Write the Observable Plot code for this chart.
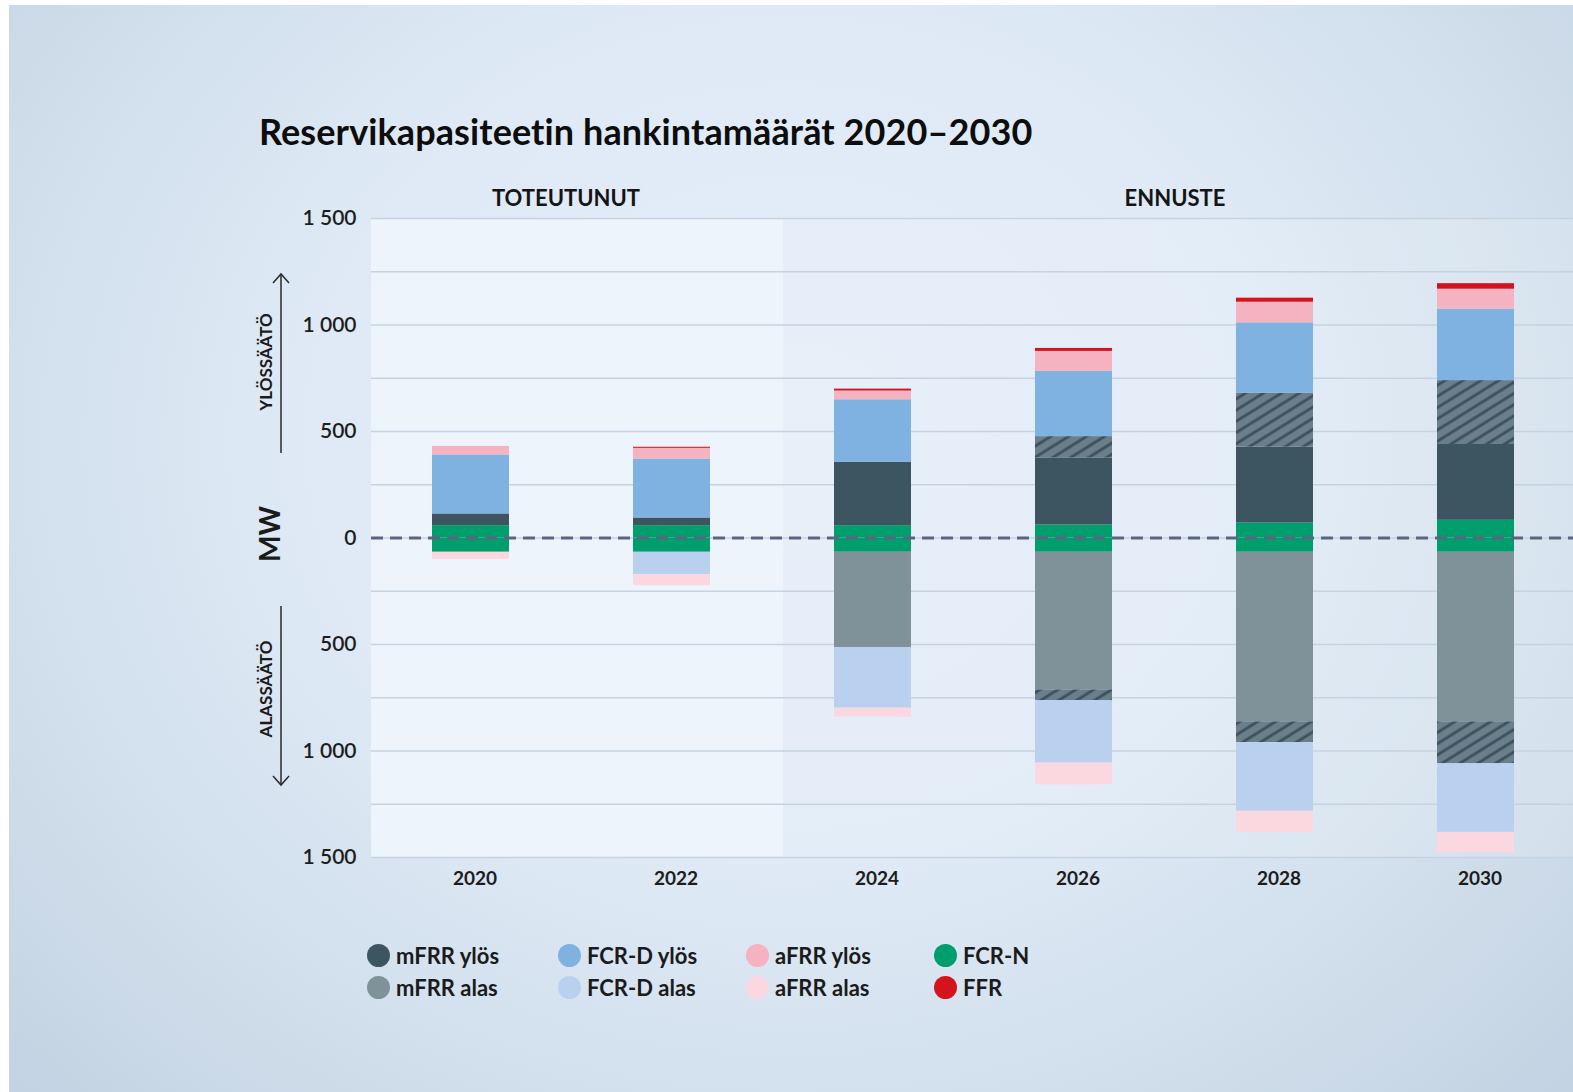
<!DOCTYPE html>
<html>
<head>
<meta charset="utf-8">
<script src="https://cdn.jsdelivr.net/npm/d3@7"></script>
<script src="https://cdn.jsdelivr.net/npm/@observablehq/plot@0.6"></script>
<style>
  html, body { margin: 0; padding: 0; background: #ffffff; overflow: hidden; }
  body { width: 1573px; height: 1092px; position: relative; font-family: Lato, "Open Sans", sans-serif; color: #1b1b1b; }
  #bg { position: absolute; left: 9px; top: 5px; right: 0; bottom: 0;
        background: radial-gradient(ellipse 68% 85% at 50% 40%, #e4eef9 0%, #dfeaf6 45%, #d1dfec 75%, #c4d3e3 100%); }
  #panelA { position: absolute; left: 371px; top: 218px; width: 412px; height: 639px; background: #edf4fc; }
  #panelB { position: absolute; left: 783px; top: 218px; width: 790px; height: 639px; background: rgba(255,255,255,0.14); }
  #title { position: absolute; left: 259px; top: 113px; font-size: 36px; font-weight: 700; line-height: 1; white-space: nowrap; color: #0d0d0d; letter-spacing: 0.1px; }
  .period { position: absolute; top: 187px; font-size: 22px; font-weight: 700; line-height: 1; white-space: nowrap; transform: translateX(-50%); color: #151515; }
  #chart { position: absolute; left: 0; top: 180px; }
  #overlay { position: absolute; left: 0; top: 0; pointer-events: none; }
  .leg { position: absolute; display: flex; align-items: center; height: 23px; font-size: 22px; font-weight: 700; line-height: 1; white-space: nowrap; color: #1b1b1b; }
  .leg .dot { width: 23px; height: 23px; border-radius: 50%; margin-right: 6px; flex: none; }
</style>
</head>
<body>
<div id="bg"></div>
<div id="panelA"></div>
<div id="panelB"></div>
<div id="title">Reservikapasiteetin hankintamäärät 2020–2030</div>
<div class="period" style="left:566px">TOTEUTUNUT</div>
<div class="period" style="left:1175px">ENNUSTE</div>
<div id="chart"></div>
<svg id="overlay" width="1573" height="1092"></svg>
<div id="legend"></div>
<script>
// ---- data (MW) ----
const years = ["2020", "2022", "2024", "2026", "2028", "2030"];
// upward regulation (ylössäätö)
const fcrNUp       = [58, 58, 58, 61, 70, 83];
const mfrrUp       = [55, 36, 297, 315, 356, 356];
const mfrrUpExtra  = [0, 0, 0, 100, 253, 300];   // hatched part
const fcrdUp       = [277, 277, 294, 306, 331, 335];
const afrrUp       = [40, 50, 41, 94, 97, 94];
const ffr          = [0, 5, 9, 14, 19, 26];
// downward regulation (alassäätö)
const fcrNDown     = [67, 67, 67, 67, 67, 67];
const mfrrDown     = [0, 0, 447, 646, 796, 796];
const mfrrDownExtra= [0, 0, 0, 50, 98, 197];     // hatched part
const fcrdDown     = [0, 105, 285, 294, 322, 322];
const afrrDown     = [33, 52, 42, 102, 100, 97];

const yTicks = [-1500, -1000, -500, 0, 500, 1000, 1500];
const gridTicks = [-1500, -1250, -1000, -750, -500, -250, 0, 250, 500, 750, 1000, 1250, 1500];

// series in stacking order, sign = direction
const series = [
  {key: "FCR-N ylös",    values: fcrNUp,        sign: 1,  color: "#009e6c"},
  {key: "mFRR ylös",     values: mfrrUp,        sign: 1,  color: "#3d5461"},
  {key: "mFRR ylös +",   values: mfrrUpExtra,   sign: 1,  color: "url(#hatch)"},
  {key: "FCR-D ylös",    values: fcrdUp,        sign: 1,  color: "#80b2e1"},
  {key: "aFRR ylös",     values: afrrUp,        sign: 1,  color: "#f5b2c1"},
  {key: "FFR",           values: ffr,           sign: 1,  color: "#d5131d"},
  {key: "FCR-N alas",    values: fcrNDown,      sign: -1, color: "#009e6c"},
  {key: "mFRR alas",     values: mfrrDown,      sign: -1, color: "#7f9199"},
  {key: "mFRR alas +",   values: mfrrDownExtra, sign: -1, color: "url(#hatch)"},
  {key: "FCR-D alas",    values: fcrdDown,      sign: -1, color: "#b9d1ee"},
  {key: "aFRR alas",     values: afrrDown,      sign: -1, color: "#fbd8e0"}
];

const legendItems = [
  {label: "mFRR ylös",  color: "#3d5461"},
  {label: "mFRR alas",  color: "#7f9199"},
  {label: "FCR-D ylös", color: "#80b2e1"},
  {label: "FCR-D alas", color: "#b9d1ee"},
  {label: "aFRR ylös",  color: "#f5b2c1"},
  {label: "aFRR alas",  color: "#fbd8e0"},
  {label: "FCR-N",      color: "#009e6c"},
  {label: "FFR",        color: "#d5131d"}
];

const data = [];
for (const s of series) {
  years.forEach((yr, i) => {
    if (s.values[i] > 0) data.push({year: yr, series: s.key, value: s.sign * s.values[i]});
  });
}

const fmt = v => {
  const a = Math.abs(v);
  return a >= 1000 ? String(a).replace(/^(\d)(\d{3})$/, "$1 $2") : String(a);
};

const plot = Plot.plot({
  width: 1573,
  height: 720,
  marginLeft: 371,
  marginRight: 0,
  marginTop: 38,
  marginBottom: 43,
  style: {background: "transparent", fontFamily: "Lato, sans-serif", overflow: "visible"},
  x: {type: "band", domain: years, range: [367.6, 1578.4], paddingInner: 0.618, paddingOuter: 0.309, align: 0.5},
  y: {domain: [-1500, 1500]},
  color: {type: "ordinal", domain: series.map(s => s.key), range: series.map(s => s.color)},
  marks: [
    Plot.gridY(gridTicks, {stroke: "#c5d3e1", strokeOpacity: 1, strokeWidth: 1.5}),
    Plot.barY(data, {x: "year", y: "value", fill: "series", order: null}),
    Plot.ruleY([0], {stroke: "#5c6580", strokeWidth: 3, strokeDasharray: "12,7"}),
    Plot.axisY(yTicks, {tickSize: 0, tickPadding: 15, tickFormat: fmt, fontSize: 21, fontWeight: 600, fill: "#1d1d1d", label: null}),
    Plot.axisX({tickSize: 0, tickPadding: 14, fontSize: 19, fontWeight: 700, fill: "#1d1d1d", dx: 4, label: null})
  ]
});

// hatch pattern
const psvg = d3.select(plot);
const defs = psvg.insert("defs", ":first-child");
const pat = defs.append("pattern").attr("id", "hatch")
  .attr("patternUnits", "userSpaceOnUse").attr("width", 10).attr("height", 9.5)
  .attr("patternTransform", "rotate(-32)");
pat.append("rect").attr("width", 10).attr("height", 9.5).attr("fill", "#6b7f8b");
pat.append("line").attr("x1", -1).attr("x2", 11).attr("y1", 4.75).attr("y2", 4.75)
  .attr("stroke", "#3a505e").attr("stroke-width", 2.8);

document.getElementById("chart").appendChild(plot);

// axis side labels and arrows
const ov = d3.select("#overlay");
const arrowColor = "#2a2a2a";
ov.append("line").attr("x1", 281).attr("x2", 281).attr("y1", 453).attr("y2", 274).attr("stroke", arrowColor).attr("stroke-width", 1.5);
ov.append("polyline").attr("points", "273,283 281,274 289,283").attr("fill", "none").attr("stroke", arrowColor).attr("stroke-width", 1.5);
ov.append("line").attr("x1", 281).attr("x2", 281).attr("y1", 606).attr("y2", 785).attr("stroke", arrowColor).attr("stroke-width", 1.5);
ov.append("polyline").attr("points", "273,776 281,785 289,776").attr("fill", "none").attr("stroke", arrowColor).attr("stroke-width", 1.5);
const sideLabel = (txt, x, y, size, weight) => ov.append("text")
  .attr("transform", `translate(${x},${y}) rotate(-90)`)
  .attr("text-anchor", "middle").attr("dominant-baseline", "central")
  .attr("font-family", "Lato, sans-serif").attr("font-size", size).attr("font-weight", weight)
  .attr("fill", "#1b1b1b").text(txt);
sideLabel("YLÖSSÄÄTÖ", 265, 362, 17, 700);
sideLabel("ALASSÄÄTÖ", 265, 689, 17, 700);
sideLabel("MW", 269, 534, 28, 700);

// legend (2 rows x 4 columns, column-major)
const legend = document.getElementById("legend");
const colX = [367, 558, 746, 934];
const rowY = [944, 976];
legendItems.forEach((it, i) => {
  const col = Math.floor(i / 2), row = i % 2;
  const d = document.createElement("div");
  d.className = "leg";
  d.style.left = colX[col] + "px";
  d.style.top = rowY[row] + "px";
  d.innerHTML = `<span class="dot" style="background:${it.color}"></span><span>${it.label}</span>`;
  legend.appendChild(d);
});
</script>
</body>
</html>
